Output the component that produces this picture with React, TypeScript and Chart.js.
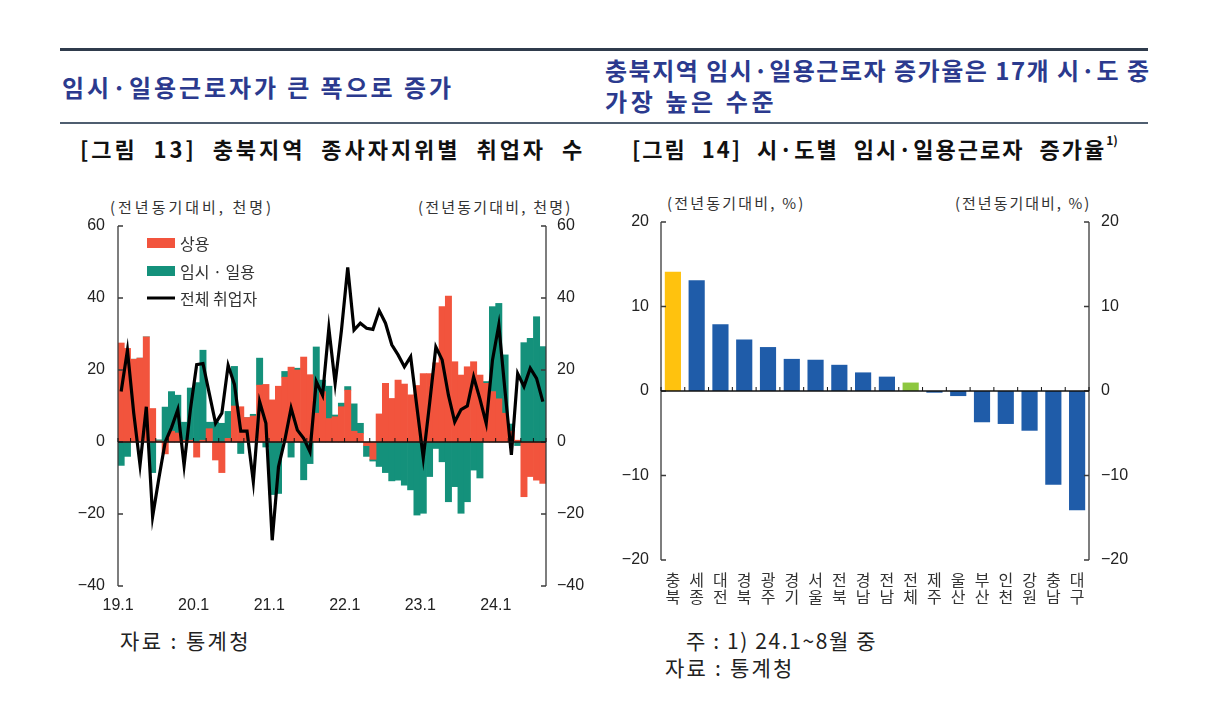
import React, { useEffect, useRef } from "react";
import { Chart, registerables } from "chart.js";

Chart.register(...registerables);

// ---------------- Figure 13 data (천명, 전년동기대비) ----------------
const monthLabels: string[] = (() => {
  const out: string[] = [];
  for (let y = 19; y <= 24; y++) {
    for (let m = 1; m <= 12; m++) {
      if (y === 24 && m > 8) break;
      out.push(`${y}.${m}`);
    }
  }
  return out;
})();

const yearTickLabels = ["19.1", "20.1", "21.1", "22.1", "23.1", "24.1"];
const leftTickValues = [-40, -20, 0, 20, 40, 60];

// 상용
const regularWorkers = [
  27.5, 26, 23, 23.3, 29.2, 9.3, 0.3, -3.3, 3, 2.5, 0.5, 0.5,
  -4.2, 0.5, 3.7, -5, -8.5, 1, 10, 9.8, 6.8, 7.2, 15.8, 16,
  11.7, 15.5, 18, 20.8, 20, 23.6, 18.7, 8, 14, 6.5, 7, 9.8,
  14.4, 3, 2.4, -1, -4.8, 7.8, 16.3, 12.1, 17.2, 16.1, 13.1, 15.7,
  19, 19, 22, 37.6, 40.5, 22.3, 18.6, 20.9, 22.3, 18.6, 16.3, 14,
  12, 8, 3, 0.5, -15.2, -9.6, -10.6, -11.5,
];

// 임시·일용
const tempDailyWorkers = [
  -6.5, -4, 0, 0, 0, -8.5, 0.3, 9.7, 11, 10.5, 5, 14.5,
  16.5, 25, 1.8, 5.5, 5.2, 7.5, 11, -3.2, 0, 0.5, 7.5, -1.4,
  -14.6, -14.3, 1.6, -4.2, 0.5, -10.5, -6, 18.4, 3.2, 9, 0.5, 1,
  1, 7.6, 2.8, -3, -0.5, -6.8, -8.5, -10.8, -10.6, -12, -13.3, -20.3,
  -19.8, -9.6, -1.8, -5.5, -16.6, -12.4, -19.8, -16.6, -7.8, -10, 0.5, 23.6,
  26.5, 16.2, 2, -1, 27.6, 28.8, 34.8, 26.5,
];

// 전체 취업자
const totalEmployed = [
  14, 25.5, 8, -6.4, 9.8, -20.7, -10, 0, 4, 9, -6.5, 9,
  21.5, 21.8, 13.5, 5.2, 8, 21.3, 16, 3, 3, -11, 11.2, 5.2,
  -27.3, -6.9, 0.5, 9.4, 3.3, 1, -2.7, 16.8, 13, 31.6, 16.3, 31,
  48.5, 31.1, 33, 31.6, 31.3, 36.5, 33, 27, 24.2, 20.9, 23.7, 9.6,
  -4.4, 10.6, 26.4, 22.8, 13, 5.6, 9, 10, 18.1, 12, 5.2, 22.8,
  32.5, 14, -3.6, 19, 15.4, 20.5, 17.7, 11.2,
];

// ---------------- Figure 14 data (%, 전년동기대비) ----------------
const regions = [
  "충북", "세종", "대전", "경북", "광주", "경기", "서울", "전북", "경남",
  "전남", "전체", "제주", "울산", "부산", "인천", "강원", "충남", "대구",
];
const regionRates = [
  14.1, 13.1, 7.9, 6.1, 5.2, 3.8, 3.7, 3.1, 2.2,
  1.7, 1.0, -0.2, -0.6, -3.7, -3.9, -4.7, -11.1, -14.1,
];
const rightTickValues = [-20, -10, 0, 10, 20];

const RED = "#F2543D";
const TEAL = "#14917B";
const BLUE = "#1F5CA9";
const YELLOW = "#FFC20E";
const GREEN = "#8DC73F";
const AXIS = "#3a3a3a";
const NUM_FONT = "'Liberation Sans', Arial, sans-serif";
const KR_FONT = "'Noto Sans CJK KR', 'Noto Sans', sans-serif";

const minusFmt = (v: any) => String(v).replace("-", "\u2212");

const makeDecor = (boundaryTicks: "months" | "cats") => ({
  id: "axisDecor",
  afterDatasetsDraw(chart: any) {
    const { ctx, chartArea: a, scales } = chart;
    const y = scales.y;
    const x = scales.x;
    ctx.save();
    ctx.strokeStyle = AXIS;
    ctx.lineWidth = 1.3;
    ctx.beginPath();
    ctx.moveTo(a.left, a.top);
    ctx.lineTo(a.left, a.bottom);
    ctx.moveTo(a.right, a.top);
    ctx.lineTo(a.right, a.bottom);
    y.ticks.forEach((t: any) => {
      const py = y.getPixelForValue(t.value);
      ctx.moveTo(a.left, py);
      ctx.lineTo(a.left + 5, py);
      ctx.moveTo(a.right, py);
      ctx.lineTo(a.right - 5, py);
    });
    ctx.stroke();
    // zero line
    const y0 = y.getPixelForValue(0);
    ctx.strokeStyle = "#111";
    ctx.lineWidth = 1.6;
    ctx.beginPath();
    ctx.moveTo(a.left, y0);
    ctx.lineTo(a.right, y0);
    ctx.stroke();
    ctx.lineWidth = 1;
    ctx.beginPath();
    const n = x.ticks.length;
    const step = boundaryTicks === "months" ? 2 : 1;
    for (let i = 0; i <= n; i += step) {
      const px =
        i < n
          ? x.getPixelForValue(i) - (x.getPixelForValue(1) - x.getPixelForValue(0)) / 2
          : a.right;
      ctx.moveTo(px, y0);
      ctx.lineTo(px, y0 - 4);
    }
    ctx.stroke();
    ctx.restore();
  },
});

const legendPlugin = {
  id: "innerLegend",
  afterDraw(chart: any) {
    const { ctx, chartArea: a } = chart;
    const x0 = a.left + 29;
    const items = [
      { label: "상용", color: RED, kind: "box", dy: 17 },
      { label: "임시 · 일용", color: TEAL, kind: "box", dy: 45 },
      { label: "전체 취업자", color: "#000", kind: "line", dy: 72 },
    ];
    ctx.save();
    ctx.font = `16px ${KR_FONT}`;
    ctx.textBaseline = "middle";
    items.forEach((it) => {
      const cy = a.top + it.dy;
      if (it.kind === "box") {
        ctx.fillStyle = it.color;
        ctx.fillRect(x0, cy - 5, 28, 10);
      } else {
        ctx.strokeStyle = it.color;
        ctx.lineWidth = 3;
        ctx.beginPath();
        ctx.moveTo(x0, cy);
        ctx.lineTo(x0 + 28, cy);
        ctx.stroke();
      }
      ctx.fillStyle = "#333";
      ctx.fillText(it.label, x0 + 33, cy + 1);
    });
    ctx.restore();
  },
};

function EmploymentChart() {
  const ref = useRef<HTMLCanvasElement | null>(null);
  useEffect(() => {
    if (!ref.current) return;
    const chart = new Chart(ref.current, {
      type: "bar",
      data: {
        labels: monthLabels,
        datasets: [
          {
            type: "line",
            label: "전체 취업자",
            data: totalEmployed,
            borderColor: "#000",
            borderWidth: 3.2,
            pointRadius: 0,
            tension: 0,
            yAxisID: "y1",
            order: 0,
          } as any,
          {
            type: "bar",
            label: "상용",
            data: regularWorkers,
            backgroundColor: RED,
            stack: "s",
            yAxisID: "y",
            barPercentage: 1,
            categoryPercentage: 1,
            order: 1,
          },
          {
            type: "bar",
            label: "임시 · 일용",
            data: tempDailyWorkers,
            backgroundColor: TEAL,
            stack: "s",
            yAxisID: "y",
            barPercentage: 1,
            categoryPercentage: 1,
            order: 1,
          },
        ],
      },
      options: {
        animation: false,
        responsive: false,
        maintainAspectRatio: false,
        layout: { padding: { top: 26, left: 0, right: 0, bottom: 0 } },
        plugins: { legend: { display: false }, tooltip: { enabled: false } },
        scales: {
          x: {
            stacked: true,
            grid: { display: false, drawTicks: false },
            border: { display: false },
            ticks: {
              autoSkip: false,
              maxRotation: 0,
              minRotation: 0,
              labelOffset: -3,
              padding: 10,
              color: "#222",
              font: { size: 16, family: NUM_FONT },
              callback: (_v: any, i: number) =>
                yearTickLabels.includes(monthLabels[i]) ? monthLabels[i] : "",
            },
            afterFit: (s: any) => {
              s.height = 34;
            },
          },
          y: {
            stacked: true,
            position: "left",
            min: -40,
            max: 60,
            afterBuildTicks: (s: any) => {
              s.ticks = leftTickValues.map((v) => ({ value: v }));
            },
            grid: { display: false, drawTicks: false },
            border: { display: false },
            ticks: {
              padding: 13,
              color: "#222",
              font: { size: 16, family: NUM_FONT },
              callback: minusFmt,
            },
            afterFit: (s: any) => {
              s.width = 78;
            },
          },
          y1: {
            position: "right",
            min: -40,
            max: 60,
            afterBuildTicks: (s: any) => {
              s.ticks = leftTickValues.map((v) => ({ value: v }));
            },
            grid: { display: false, drawTicks: false },
            border: { display: false },
            ticks: {
              padding: 11,
              color: "#222",
              font: { size: 16, family: NUM_FONT },
              callback: minusFmt,
            },
            afterFit: (s: any) => {
              s.width = 54;
            },
          },
        },
      } as any,
      plugins: [makeDecor("months"), legendPlugin],
    });
    return () => chart.destroy();
  }, []);
  return (
    <canvas
      ref={ref}
      width={560}
      height={420}
      style={{ position: "absolute", left: 40, top: 200, width: 560, height: 420 }}
    />
  );
}

function RegionChart() {
  const ref = useRef<HTMLCanvasElement | null>(null);
  useEffect(() => {
    if (!ref.current) return;
    const colors = regions.map((r) => (r === "충북" ? YELLOW : r === "전체" ? GREEN : BLUE));
    const chart = new Chart(ref.current, {
      type: "bar",
      data: {
        labels: regions.map((r) => r.split("")),
        datasets: [
          {
            label: "임시·일용근로자 증가율",
            data: regionRates,
            backgroundColor: colors,
            barPercentage: 0.68,
            categoryPercentage: 1,
          },
        ],
      },
      options: {
        animation: false,
        responsive: false,
        maintainAspectRatio: false,
        layout: { padding: { top: 22, left: 0, right: 0, bottom: 0 } },
        plugins: { legend: { display: false }, tooltip: { enabled: false } },
        scales: {
          x: {
            grid: { display: false, drawTicks: false },
            border: { display: false },
            ticks: {
              autoSkip: false,
              maxRotation: 0,
              minRotation: 0,
              padding: 11,
              color: "#333",
              font: { size: 16, family: KR_FONT, lineHeight: 1.1 },
            },
            afterFit: (s: any) => {
              s.height = 60;
            },
          },
          y: {
            position: "left",
            min: -20,
            max: 20,
            afterBuildTicks: (s: any) => {
              s.ticks = rightTickValues.map((v) => ({ value: v }));
            },
            grid: { display: false, drawTicks: false },
            border: { display: false },
            ticks: {
              padding: 12,
              color: "#222",
              font: { size: 16, family: NUM_FONT },
              callback: minusFmt,
            },
            afterFit: (s: any) => {
              s.width = 61;
            },
          },
          y1: {
            position: "right",
            min: -20,
            max: 20,
            afterBuildTicks: (s: any) => {
              s.ticks = rightTickValues.map((v) => ({ value: v }));
            },
            grid: { display: false, drawTicks: false },
            border: { display: false },
            ticks: {
              padding: 12,
              color: "#222",
              font: { size: 16, family: NUM_FONT },
              callback: minusFmt,
            },
            afterFit: (s: any) => {
              s.width = 71;
            },
          },
        },
      } as any,
      plugins: [makeDecor("cats")],
    });
    return () => chart.destroy();
  }, []);
  return (
    <canvas
      ref={ref}
      width={560}
      height={420}
      style={{ position: "absolute", left: 600, top: 200, width: 560, height: 420 }}
    />
  );
}

const txt = (
  left: number,
  top: number,
  size: number,
  extra: React.CSSProperties = {}
): React.CSSProperties => ({
  position: "absolute",
  left,
  top,
  fontSize: size,
  fontFamily: KR_FONT,
  lineHeight: 1,
  whiteSpace: "nowrap",
  color: "#222",
  ...extra,
});

export default function App() {
  const headColor = "#2B3A8E";
  return (
    <div
      style={{
        position: "absolute",
        left: 0,
        top: 0,
        width: 1207,
        height: 717,
        background: "#fff",
        overflow: "hidden",
      }}
    >
      <div style={{ position: "absolute", left: 60, top: 48, width: 1088, height: 3, background: "#2F3B4C" }} />
      <div style={{ position: "absolute", left: 60, top: 122, width: 1088, height: 2, background: "#4F5E70" }} />

      <div style={txt(62, 75, 24, { fontWeight: 700, color: headColor, letterSpacing: 2.9 })}>
        임시·일용근로자가 큰 폭으로 증가
      </div>
      <div style={txt(605, 58, 24, { fontWeight: 700, color: headColor, letterSpacing: 1.5 })}>
        충북지역 임시·일용근로자 증가율은 17개 시·도 중
      </div>
      <div style={txt(605, 89, 24, { fontWeight: 700, color: headColor, letterSpacing: 3.6 })}>
        가장 높은 수준
      </div>

      <div style={txt(80, 137, 22, { fontWeight: 700, color: "#111", letterSpacing: 2.95, wordSpacing: 8 })}>
        [그림 13] 충북지역 종사자지위별 취업자 수
      </div>
      <div style={txt(632, 137, 22, { fontWeight: 700, color: "#111", letterSpacing: 2, wordSpacing: 8 })}>
        [그림 14] 시·도별 임시·일용근로자 증가율
        <sup style={{ fontSize: 12, verticalAlign: "top", position: "relative", top: -3, letterSpacing: 0 }}>1)</sup>
      </div>

      <div style={txt(110, 199, 15, { color: "#333", letterSpacing: 3 })}>(전년동기대비, 천명)</div>
      <div style={txt(418, 199, 15, { color: "#333", letterSpacing: 2.2 })}>(전년동기대비, 천명)</div>
      <div style={txt(667, 195, 15, { color: "#333", letterSpacing: 2.2 })}>(전년동기대비, %)</div>
      <div style={txt(955, 195, 15, { color: "#333", letterSpacing: 2 })}>(전년동기대비, %)</div>

      <EmploymentChart />
      <RegionChart />

      <div style={txt(120, 630, 21, { letterSpacing: 2.4 })}>자료 : 통계청</div>
      <div style={txt(686, 630, 21, { letterSpacing: 1.6 })}>주 : 1) 24.1~8월 중</div>
      <div style={txt(665, 657, 21, { letterSpacing: 2.2 })}>자료 : 통계청</div>
    </div>
  );
}
